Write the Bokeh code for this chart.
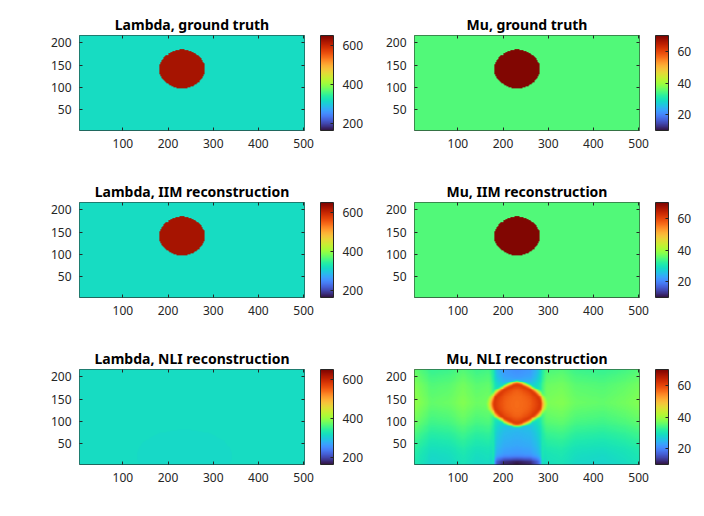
import numpy as np
from bokeh.plotting import figure
from bokeh.models import LinearColorMapper, ColorBar, FixedTicker, Range1d, LinearAxis
from bokeh.palettes import Turbo256
from bokeh.layouts import gridplot
from bokeh.embed import file_html
from bokeh.resources import INLINE

# ---------------- data ----------------
titles = ["Lambda, ground truth", "Mu, ground truth",
          "Lambda, IIM reconstruction", "Mu, IIM reconstruction",
          "Lambda, NLI reconstruction", "Mu, NLI reconstruction"]
x_ticks = [100, 200, 300, 400, 500]
y_ticks = [50, 100, 150, 200]
lambda_ticks = [200, 400, 600]
mu_ticks = [20, 40, 60]
lambda_clim = [165, 650]
mu_clim = [10, 70.5]
x_view = [4, 502]
y_view = [1.5, 217]
grid_x = [3, 503]
grid_y = [1, 218]
nx, ny = 250, 109

# ground truth / IIM: circular inclusion
incl_center = [230, 140]
incl_radius = [50, 44]
lambda_bg, lambda_incl = 317, 622
mu_bg, mu_incl = 35, 70

# NLI lambda: nearly uniform with a faint patch low in the middle
nli_lam_bg = 317
nli_lam_patch_center = [235, 20]
nli_lam_patch_radius = [105, 60]
nli_lam_patch = 314

# NLI mu: background profiles
nli_mu_bg_y = [0, 30, 60, 100, 140, 180, 218]
nli_mu_bg_v = [28, 29, 31, 34, 36, 35, 33]
nli_mu_col_x = [0, 15, 40, 80, 110, 140, 170, 300, 330, 360, 420, 470, 502]
nli_mu_col_dv = [3, 2, 0, 0.5, 2, 0.5, 1, 1.5, 2, 0.5, 0, 1, 2]
# vertical low band under/over the inclusion
nli_band_x = [170, 185, 200, 230, 260, 275, 294]
nli_band_w = [0, 0.7, 0.92, 1, 0.92, 0.7, 0]
nli_band_y = [0, 6, 12, 20, 40, 80, 100, 180, 200, 218]
nli_band_v = [10, 11, 14, 21, 23, 25, 27, 26, 22, 21]
nli_band_edge_x = [178, 286]
nli_band_edge_v = 31
# lens-shaped inclusion
nli_lens_center = [230, 138]
nli_lens_radius = [60, 50]
nli_lens_core, nli_lens_edge, nli_lens_rim, nli_lens_halo = 57, 63, 46, 40

# ---------------- build fields ----------------
xs = np.linspace(grid_x[0], grid_x[1], nx)
ys = np.linspace(grid_y[0], grid_y[1], ny)
X, Y = np.meshgrid(xs, ys)

def ellipse_s(c, r, p=2.0):
    return (np.abs(X - c[0]) / r[0]) ** p + (np.abs(Y - c[1]) / r[1]) ** 2

incl = ellipse_s(incl_center, incl_radius) <= 1
lam_gt = np.where(incl, lambda_incl, lambda_bg).astype(float)
mu_gt = np.where(incl, mu_incl, mu_bg).astype(float)

lam_nli = np.full(X.shape, float(nli_lam_bg))
patch = ellipse_s(nli_lam_patch_center, nli_lam_patch_radius) <= 1
lam_nli[patch] = nli_lam_patch

mu_nli = np.interp(Y, nli_mu_bg_y, nli_mu_bg_v) + np.interp(X, nli_mu_col_x, nli_mu_col_dv)
w = np.interp(X, nli_band_x, nli_band_w)
mu_nli = mu_nli * (1 - w) + np.interp(Y, nli_band_y, nli_band_v) * w
for ex in nli_band_edge_x:
    e = np.abs(X - ex) < 3
    mu_nli[e] = np.maximum(mu_nli[e], nli_band_edge_v)
s = ellipse_s(nli_lens_center, nli_lens_radius, p=1.3)
inner = s < 0.85
mu_nli[inner] = (nli_lens_core + (nli_lens_edge - nli_lens_core) * (s / 0.85) ** 2)[inner]
ring = (s >= 0.85) & (s < 1.0)
mu_nli[ring] = (nli_lens_edge + (nli_lens_rim - nli_lens_edge) * (s - 0.85) / 0.15)[ring]
halo = (s >= 1.0) & (s < 1.1)
mu_nli[halo] = np.maximum(mu_nli[halo], (nli_lens_rim + (nli_lens_halo - nli_lens_rim) * (s - 1.0) / 0.1)[halo])

k = np.array([1, 2, 3, 2, 1], float); k /= k.sum()
def blur(a):
    a = np.apply_along_axis(lambda r: np.convolve(np.pad(r, 2, mode="edge"), k, "valid"), 1, a)
    a = np.apply_along_axis(lambda c: np.convolve(np.pad(c, 2, mode="edge"), k, "valid"), 0, a)
    return a
mu_nli = blur(mu_nli)

fields = [lam_gt, mu_gt, lam_gt.copy(), mu_gt.copy(), lam_nli, mu_nli]

# ---------------- plotting ----------------
FONT = "Noto Sans"
TXT = "#262626"
FW, FH = 225, 95

def style_axis(ax):
    ax.axis_line_color = None
    ax.major_tick_in = 3
    ax.major_tick_out = 0
    ax.major_tick_line_color = TXT
    ax.minor_tick_line_color = None
    ax.major_label_text_font = FONT
    ax.major_label_text_font_size = "12px"
    ax.major_label_text_color = TXT
    ax.major_label_standoff = 8

def panel(i):
    is_lam = (i % 2 == 0)
    clim = lambda_clim if is_lam else mu_clim
    cticks = lambda_ticks if is_lam else mu_ticks
    mapper = LinearColorMapper(palette=Turbo256, low=clim[0], high=clim[1])
    left = 79 if is_lam else 29
    right = 78 if is_lam else 56
    top = 35 if i < 2 else 27
    p = figure(frame_width=FW, frame_height=FH, output_backend="svg", toolbar_location=None,
               x_range=Range1d(*x_view), y_range=Range1d(*y_view),
               min_border_left=left, min_border_right=right, min_border_top=top, min_border_bottom=45,
               title=titles[i])
    p.image(image=[fields[i]], x=grid_x[0], y=grid_y[0], dw=grid_x[1] - grid_x[0],
            dh=grid_y[1] - grid_y[0], color_mapper=mapper)
    p.title.align = "center"
    p.title.text_font = FONT
    p.title.text_font_size = "14px"
    p.title.text_font_style = "bold"
    p.title.text_color = "black"
    p.title.standoff = 3
    p.grid.visible = False
    p.outline_line_color = TXT
    p.outline_line_width = 1
    p.xaxis.ticker = FixedTicker(ticks=x_ticks)
    p.yaxis.ticker = FixedTicker(ticks=y_ticks)
    style_axis(p.xaxis[0])
    style_axis(p.yaxis[0])
    # box ticks on the top and right edges, no labels
    tax = LinearAxis(ticker=FixedTicker(ticks=x_ticks),
                     major_label_overrides={t: "" for t in x_ticks})
    rax = LinearAxis(ticker=FixedTicker(ticks=y_ticks),
                     major_label_overrides={t: "" for t in y_ticks})
    for ax in (tax, rax):
        style_axis(ax)
        ax.major_label_standoff = 0
    p.add_layout(tax, "above")
    p.add_layout(rax, "right")
    cb = ColorBar(color_mapper=mapper, ticker=FixedTicker(ticks=cticks), width=13, height=FH,
                  padding=0, margin=0, label_standoff=9, location=(FW + 16, 0),
                  major_label_text_font=FONT, major_label_text_font_size="12px",
                  major_label_text_color=TXT, major_tick_in=3, major_tick_out=0,
                  major_tick_line_color=TXT, minor_tick_line_color=None,
                  bar_line_color=TXT, bar_line_width=1,
                  border_line_color=None, background_fill_color=None)
    p.add_layout(cb)
    return p

plots = [panel(i) for i in range(6)]
grid = gridplot([[plots[0], plots[1]], [plots[2], plots[3]], [plots[4], plots[5]]],
                toolbar_location=None)
open("out.html", "w").write(file_html(grid, INLINE))
